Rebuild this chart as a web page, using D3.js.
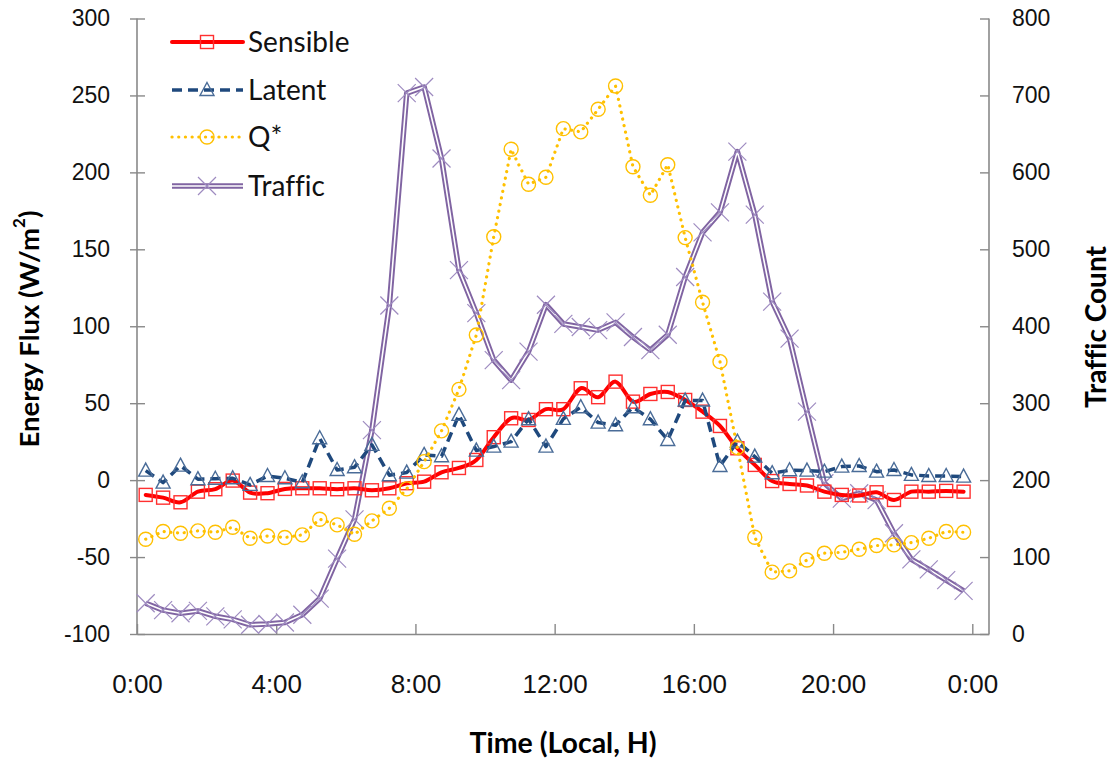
<!DOCTYPE html>
<html>
<head>
<meta charset="utf-8">
<script src="https://cdn.jsdelivr.net/npm/d3@7"></script>
<style>
    body { margin: 0; background: #fff; }
    svg { display: block; font-family: Lato, "Open Sans", sans-serif; font-variant-ligatures: none; }
</style>
</head>
<body>
<svg id="chart" width="1111" height="763"></svg>
<script>
// half-hourly means, local time
const times = [
    "0:15", "0:45", "1:15", "1:45", "2:15", "2:45", "3:15", "3:45",
    "4:15", "4:45", "5:15", "5:45", "6:15", "6:45", "7:15", "7:45",
    "8:15", "8:45", "9:15", "9:45", "10:15", "10:45", "11:15", "11:45",
    "12:15", "12:45", "13:15", "13:45", "14:15", "14:45", "15:15", "15:45",
    "16:15", "16:45", "17:15", "17:45", "18:15", "18:45", "19:15", "19:45",
    "20:15", "20:45", "21:15", "21:45", "22:15", "22:45", "23:15", "23:45"
];

const sensible = [
    -9.6, -11.4, -14.4, -7.5, -5.9, -0.3, -8.1, -8.5,
    -5.7, -5.3, -5.3, -5.9, -5.3, -6.6, -5.3, -2.0,
    -1.0, 5.1, 7.9, 13.1, 27.9, 40.2, 39.1, 46.1,
    46.1, 59.7, 53.9, 64.0, 51.0, 56.0, 57.3, 52.1,
    44.5, 35.2, 20.7, 9.9, -0.6, -2.5, -3.5, -7.5,
    -9.6, -10.0, -7.9, -12.9, -7.5, -7.5, -7.0, -7.5
];

const latent = [
    6.2, -1.6, 9.4, 0.6, 0.9, 1.2, -3.1, 2.7,
    1.2, -1.4, 27.2, 6.6, 8.4, 22.9, 3.2, 4.9,
    16.4, 15.5, 42.4, 19.2, 21.8, 25.0, 39.6, 21.8,
    39.8, 47.4, 37.4, 35.7, 47.4, 39.6, 26.1, 51.7,
    51.7, 9.2, 25.0, 15.3, 4.5, 6.4, 6.2, 5.5,
    8.8, 9.2, 5.5, 6.6, 3.4, 2.7, 2.7, 2.3
];

const qstar = [
    -38.4, -33.4, -34.5, -33.0, -33.9, -30.6, -37.8, -36.3,
    -37.3, -35.6, -25.4, -29.1, -35.2, -26.5, -18.3, -5.7,
    12.0, 32.0, 59.0, 94.3, 158.2, 215.0, 192.3, 196.8,
    228.4, 226.3, 241.0, 256.1, 203.7, 185.1, 205.0, 157.6,
    115.6, 77.0, 21.1, -37.1, -59.8, -59.0, -51.9, -47.5,
    -46.9, -44.9, -42.5, -42.1, -40.6, -37.8, -33.4, -33.9
];

const traffic = [
    40, 31, 27, 30, 23, 19, 12, 13,
    15, 25, 46, 98, 149, 265, 427, 703,
    711, 618, 473, 417, 356, 330, 367, 428,
    403, 399, 395, 405, 386, 369, 389, 464,
    522, 548, 627, 545, 432, 384, 289, 196,
    176, 183, 174, 131, 97, 84, 70, 56
];

const fluxTicks = [-100, -50, 0, 50, 100, 150, 200, 250, 300];
const countTicks = [0, 100, 200, 300, 400, 500, 600, 700, 800];
const hourTicks = [0, 4, 8, 12, 16, 20, 24];
const hourLabels = ["0:00", "4:00", "8:00", "12:00", "16:00", "20:00", "0:00"];

const hours = times.map(t => {
    const [h, m] = t.split(":").map(Number);
    return h + m / 60;
});

const svg = d3.select("#chart");
const axisColor = "#898989";

const x = d3.scaleLinear().domain([0, 24.48]).range([137, 989]);
const yFlux = d3.scaleLinear().domain([-100, 300]).range([634, 18.5]);
const yCount = d3.scaleLinear().domain([0, 800]).range([634, 18.5]);

// axes
const left = svg.append("g")
    .attr("transform", `translate(${x.range()[0]},0)`)
    .call(
        d3.axisLeft(yFlux)
            .tickValues(fluxTicks)
            .tickFormat(d => String(d))
            .tickSize(0)
            .tickPadding(27)
    );
left.selectAll(".tick line").attr("x1", -7).attr("x2", 8);

const right = svg.append("g")
    .attr("transform", `translate(${x.range()[1]},0)`)
    .call(
        d3.axisRight(yCount)
            .tickValues(countTicks)
            .tickFormat(d => String(d))
            .tickSize(-9)
            .tickPadding(23)
    );

const bottom = svg.append("g")
    .attr("transform", `translate(0,${yFlux.range()[0]})`)
    .call(
        d3.axisBottom(x)
            .tickValues(hourTicks)
            .tickFormat((d, i) => hourLabels[i])
            .tickSize(-10)
            .tickSizeOuter(0)
            .tickPadding(41)
    );

[left, right, bottom].forEach(g => {
    g.select(".domain").attr("stroke", axisColor).attr("stroke-width", 1.6);
    g.selectAll(".tick line").attr("stroke", axisColor).attr("stroke-width", 1.4);
    g.selectAll(".tick text").attr("fill", "#111").style("font-size", "23px");
});
bottom.selectAll(".tick text").style("font-size", "26px");
left.select(".domain").attr("d", `M0,${yFlux.range()[1]}V${yFlux.range()[0]}`);
right.select(".domain").attr("d", `M0,${yCount.range()[1]}V${yCount.range()[0]}`);

// titles
svg.append("text")
    .attr("transform", "translate(28,329) rotate(-90)")
    .attr("text-anchor", "middle")
    .attr("dominant-baseline", "central")
    .style("font-size", "27.5px")
    .style("font-weight", "bold")
    .call(t => {
        t.append("tspan").text("Energy Flux (W/m");
        t.append("tspan").text("2").attr("dy", -10).style("font-size", "17px");
        t.append("tspan").text(")").attr("dy", 10);
    });

svg.append("text")
    .attr("transform", "translate(1095,327) rotate(-90)")
    .attr("text-anchor", "middle")
    .attr("dominant-baseline", "central")
    .style("font-size", "28px")
    .style("font-weight", "bold")
    .text("Traffic Count");

svg.append("text")
    .attr("x", 563)
    .attr("y", 753)
    .attr("text-anchor", "middle")
    .style("font-size", "28.5px")
    .style("font-weight", "bold")
    .text("Time (Local, H)");

// series styles
const series = [
    {
        name: "Traffic", values: traffic, y: yCount, curve: d3.curveLinear,
        color: "#8064A2", width: 5.5, dash: null, cap: "butt",
        marker: "cross", markerColor: "#9E8BC0", inner: true
    },
    {
        name: "Sensible", values: sensible, y: yFlux, curve: d3.curveCatmullRom.alpha(0),
        color: "#FF0000", width: 4, dash: null, cap: "round",
        marker: "square", markerColor: "#FF3030"
    },
    {
        name: "Latent", values: latent, y: yFlux, curve: d3.curveLinear,
        color: "#1F497D", width: 3.5, dash: "10 6", cap: "butt",
        marker: "triangle", markerColor: "#4A6C98"
    },
    {
        name: "Q*", values: qstar, y: yFlux, curve: d3.curveLinear,
        color: "#FFC000", width: 3.2, dash: "0.1 6.6", cap: "round",
        marker: "circle", markerColor: "#FFC000"
    }
];

function marker(g, type, color) {
    g.attr("fill", "none").attr("stroke", color).attr("stroke-width", 1.4);
    if (type === "square") g.append("rect").attr("x", -6.5).attr("y", -6.5).attr("width", 13).attr("height", 13);
    if (type === "circle") g.append("circle").attr("r", 7);
    if (type === "triangle") g.append("path").attr("d", "M0,-7.5L7,5.5L-7,5.5Z");
    if (type === "cross") g.append("path").attr("d", "M-9,-9L9,9M-9,9L9,-9").attr("stroke-width", 1.2);
}

function drawLine(g, s, pts) {
    const line = d3.line().curve(s.curve);
    g.append("path")
        .attr("d", line(pts))
        .attr("fill", "none")
        .attr("stroke", s.color)
        .attr("stroke-width", s.width)
        .attr("stroke-dasharray", s.dash)
        .attr("stroke-linecap", s.cap)
        .attr("stroke-linejoin", "round");
    if (s.inner)
        g.append("path")
            .attr("d", line(pts))
            .attr("fill", "none")
            .attr("stroke", "#fff")
            .attr("stroke-width", 1.6)
            .attr("stroke-linejoin", "round");
}

series.forEach(s => {
    const pts = s.values.map((v, i) => [x(hours[i]), s.y(v)]);
    const g = svg.append("g").attr("class", "series");
    drawLine(g, s, pts);
    g.selectAll(".u-point")
        .data(pts)
        .join("g")
        .classed("u-point", true)
        .attr("transform", d => `translate(${d})`)
        .each(function () { marker(d3.select(this), s.marker, s.markerColor); });
});

// legend
const legendOrder = ["Sensible", "Latent", "Q*", "Traffic"];
const legendRows = [42, 90, 137, 186];
legendOrder.forEach((name, i) => {
    const s = series.find(d => d.name === name);
    const g = svg.append("g").attr("transform", `translate(0,${legendRows[i]})`);
    drawLine(g, Object.assign({}, s, {curve: d3.curveLinear}), [[172, 0], [243, 0]]);
    marker(g.append("g").attr("transform", "translate(207,0)"), s.marker, s.markerColor);
    g.append("text")
        .attr("x", 248)
        .attr("dy", "0.35em")
        .style("font-size", "28px")
        .attr("fill", "#111")
        .text(name);
});
</script>
</body>
</html>
